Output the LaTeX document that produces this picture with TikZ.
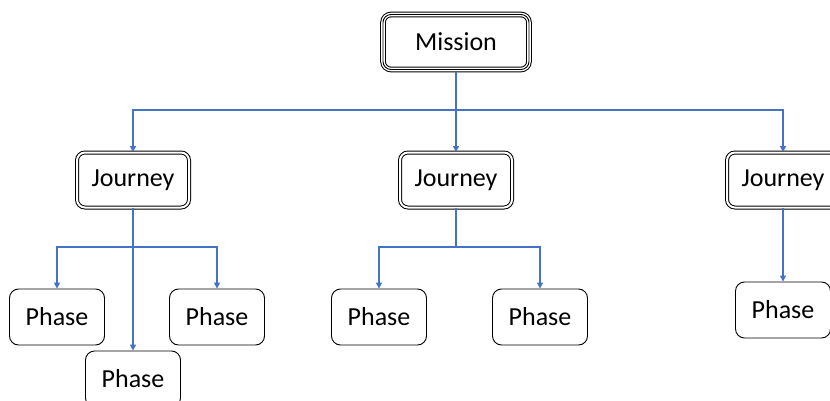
\documentclass[tikz,border=0pt]{standalone}
\usepackage{fontspec}
\setmainfont{Carlito}
\usetikzlibrary{arrows.meta}
\definecolor{conn}{HTML}{4472C4}
\tikzset{
  base/.style={rounded corners=6pt, align=center, font=\fontsize{26}{28}\selectfont, fill=white},
  phasebox/.style={base, draw=black, line width=0.9pt, minimum width=95pt, minimum height=56pt, rounded corners=9pt},
  journeybox/.style={base, draw=black, double=white, line width=1pt, double distance=2pt, minimum width=112pt, minimum height=55pt, rounded corners=8pt},
  missionbox/.style={base, draw=black, line width=5.6pt, minimum width=146pt, minimum height=55pt, rounded corners=8pt,
     postaction={draw=white, line width=3.6pt}, postaction={draw=black, line width=0.9pt}},
  link/.style={draw=conn, line width=1.6pt, -{Triangle[length=6pt,width=6pt]}},
  plain/.style={draw=conn, line width=1.6pt}
}
\begin{document}
\begin{tikzpicture}[x=1pt,y=1pt]
\useasboundingbox (0,0) rectangle (830,400);
\clip (0,0) rectangle (830,400);
% nodes (y measured upward: y = 400 - pixel y)
\node[missionbox] (m) at (456,358) {Mission};
\node[journeybox] (j1) at (133,220) {Journey};
\node[journeybox] (j2) at (456,220) {Journey};
\node[journeybox] (j3) at (783,220) {Journey};
\node[phasebox] (p1) at (57,83) {Phase};
\node[phasebox] (p2) at (217,83) {Phase};
\node[phasebox] (p3) at (133,21) {Phase};
\node[phasebox] (p4) at (379,83) {Phase};
\node[phasebox] (p5) at (540,83) {Phase};
\node[phasebox] (p6) at (783,90) {Phase};
% connector coordinates
\coordinate (mb) at (456,290);
\coordinate (jb1) at (133,153);
\coordinate (jb2) at (456,153);
% mission to journeys
\draw[plain] (m.south) -- (mb);
\draw[link] (mb) -| (j1.north);
\draw[link] (mb) -| (j3.north);
\draw[link] (m.south) -- (j2.north);
% journey 1
\draw[plain] (j1.south) -- (jb1);
\draw[link] (jb1) -| (p1.north);
\draw[link] (jb1) -| (p2.north);
\draw[link] (j1.south) -- (p3.north);
% journey 2
\draw[plain] (j2.south) -- (jb2);
\draw[link] (jb2) -| (p4.north);
\draw[link] (jb2) -| (p5.north);
% journey 3
\draw[link] (j3.south) -- (p6.north);
\end{tikzpicture}
\end{document}
